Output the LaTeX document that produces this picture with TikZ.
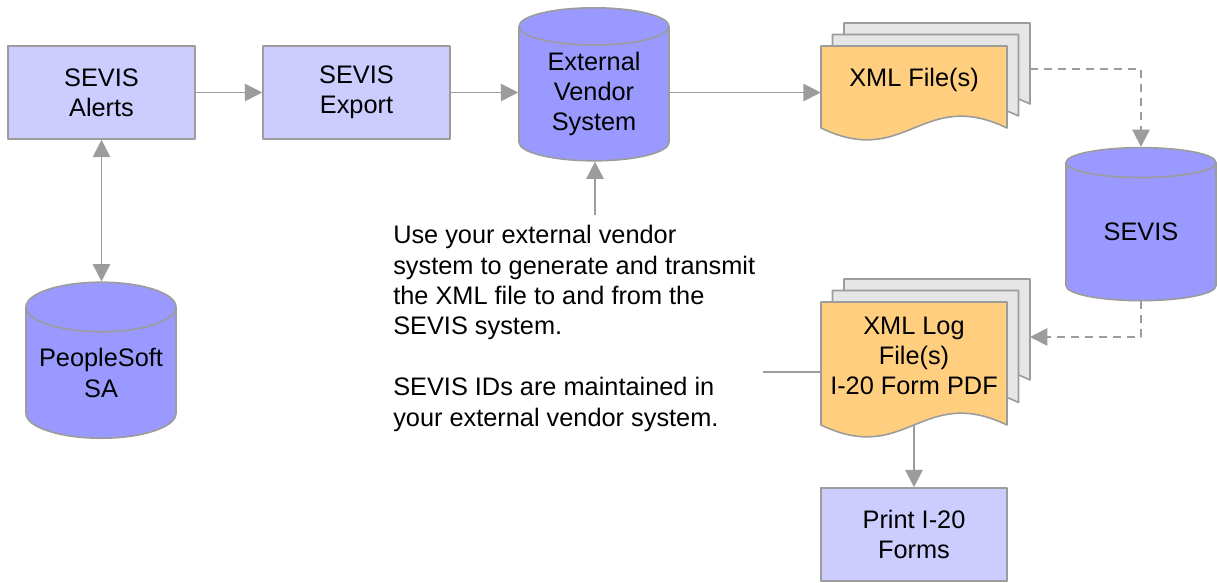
\documentclass[tikz,border=0pt]{standalone}
\usepackage{fontspec}
\setmainfont{Liberation Sans}
\usetikzlibrary{shapes.geometric,arrows.meta}
\definecolor{boxfill}{HTML}{CCCCFF}
\definecolor{dbfill}{HTML}{9999FF}
\definecolor{docfill}{HTML}{FFCF7F}
\definecolor{pagefill}{HTML}{E6E6E6}
\definecolor{edge}{HTML}{9C9C9C}
% one page of a stack: name, left, top, height, fill
\newcommand{\docpage}[5]{%
	\draw[pageline,fill=#5] (#2,#3)--(#2+186,#3)--(#2+186,#3+#4) .. controls (#2+101,#3+#4-41) and (#2+85,#3+#4+41) .. (#2,#3+#4)--cycle;
	\node[pagebox,minimum height=#4*0.75pt] (#1) at (#2+93,#3+#4/2) {};}
\begin{document}
\begin{tikzpicture}[x=0.75pt, y=-0.75pt, line join=round, >={Triangle[length=13pt,width=13pt]}]
	\tikzset{every node/.style={font=\fontsize{19}{22.8}\selectfont, align=center},
		procbox/.style={draw=edge, line width=1.2pt, fill=boxfill, minimum width=187*0.75pt, minimum height=93*0.75pt, inner sep=0pt},
		dbnode/.style={cylinder, shape border rotate=90, aspect=0.4, draw=edge, line width=1.2pt, fill=dbfill, minimum width=150*0.75pt, minimum height=153*0.75pt, inner sep=0pt},
		pageline/.style={draw=edge, line width=1.2pt},
		pagebox/.style={minimum width=186*0.75pt, inner sep=0pt},
		link/.style={draw=edge, line width=1.4pt},
		dashlink/.style={link, dash pattern=on 6pt off 4.5pt}}
	\useasboundingbox (0,0) rectangle (1217,582);
	% process boxes and stores
	\node[procbox] (alerts) at (101.5,92.5) {SEVIS\\Alerts};
	\node[procbox] (export) at (356.5,92.5) {SEVIS\\Export};
	\node[dbnode] (vendor) at (594,94) {External\\Vendor\\System};
	\node[dbnode] (sevis) at (1141,232) {SEVIS};
	\node[dbnode, minimum height=156*0.75pt] (psoft) at (101,373) {PeopleSoft\\SA};
	\node[procbox, minimum width=186*0.75pt] (print) at (914,534.5) {Print I-20\\Forms};
	% file stacks
	\docpage{xmlback}{844}{23}{81}{pagefill}
	\docpage{xmlmid}{832.5}{34.5}{81.5}{pagefill}
	\docpage{xmlfront}{821}{46}{82}{docfill}
	\node (xml) at (914,80) {XML File(s)};
	\docpage{logback}{844}{279}{101}{pagefill}
	\docpage{logmid}{832.5}{290.5}{112}{pagefill}
	\docpage{logfront}{821}{302}{123}{docfill}
	\node (log) at (914,356) {XML Log\\File(s)\\I-20 Form PDF};
	% note
	\node[align=left, anchor=north west, inner sep=0pt] (note) at (393,225) {Use your external vendor\\system to generate and transmit\\the XML file to and from the\\SEVIS system.\\[22.8pt]SEVIS IDs are maintained in\\your external vendor system.};
	\coordinate (noteup) at (595,215);
	\coordinate (notelink) at (763,372);
	\coordinate (xmlout) at (1030,69);
	\coordinate (login) at (1030,337);
	% connectors
	\draw[link,->] (alerts) -- (export);
	\draw[link,->] (export.east) -- (export.east -| vendor.west);
	\draw[link,->] (export.east -| vendor.east) -- (export.east -| xmlfront.west);
	\draw[link,<->] (alerts.south) -- (alerts.south |- psoft.north);
	\draw[link,->] (noteup) -- (noteup |- vendor.south);
	\draw[dashlink,->] (xmlout) -| (sevis.north);
	\draw[dashlink,->] (sevis.south) |- (login);
	\draw[link] (notelink) -- (notelink -| logfront.west);
	\draw[link,->] (logfront.south) -- (print.north);
\end{tikzpicture}
\end{document}
